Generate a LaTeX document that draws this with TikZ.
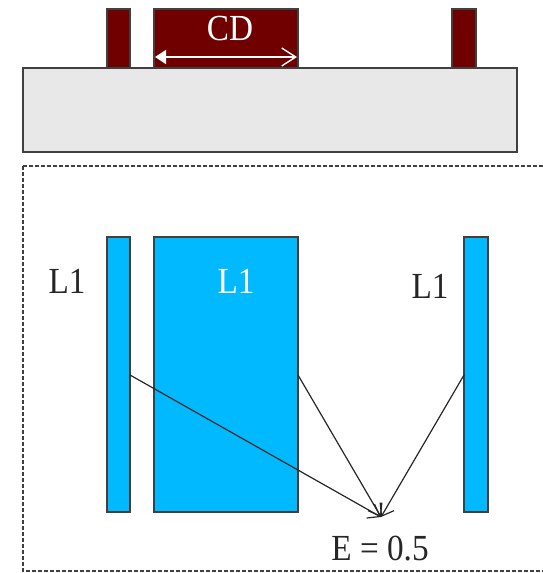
\documentclass[tikz,border=0pt]{standalone}
\usepackage{fontspec}
\setmainfont{Liberation Serif}
\usetikzlibrary{arrows.meta}
\definecolor{maskred}{RGB}{112,0,0}
\definecolor{resistblue}{RGB}{0,185,255}
\definecolor{basegray}{RGB}{232,232,232}
\definecolor{edgegray}{RGB}{64,64,64}
\begin{document}
\begin{tikzpicture}[x=1pt,y=-1pt,
  block/.style={rectangle,draw=edgegray,line width=1.5pt,inner sep=0pt,outer sep=0pt,anchor=north west},
  maskbar/.style={block,fill=maskred},
  resist/.style={block,fill=resistblue},
  lbl/.style={font=\fontsize{35}{38}\selectfont,inner sep=0pt,xscale=0.95,yscale=1.05},
  ray/.style={line width=1.2pt,draw=black!85,-{Straight Barb[length=11pt,width=16pt,line width=1.2pt]}}]
\useasboundingbox (0,0) rectangle (543,573);
% top: mask on substrate
\node[block,fill=basegray,minimum width=494pt,minimum height=84pt] (base) at (23,68) {};
\node[maskbar,minimum width=23pt,minimum height=59pt] (m1) at (107,9) {};
\node[maskbar,minimum width=144pt,minimum height=59pt] (m2) at (154,9) {};
\node[maskbar,minimum width=24pt,minimum height=59pt] (m3) at (452,9) {};
\node[lbl,text=white] (cd) at (230,29) {CD};
\coordinate (cdl) at (155,57);
\coordinate (cdr) at (297,57);
\draw[white,line width=1.4pt,{Triangle[length=11pt,width=14pt]}-{Straight Barb[length=14pt,width=18pt,line width=1.4pt]}] (cdl) -- (cdr);
% dashed frame (right edge outside the picture)
\begin{scope}
\clip (0,0) rectangle (543,573);
\draw[dash pattern=on 4pt off 2pt,line width=1.2pt,draw=edgegray] (23,166) rectangle (580,571);
\end{scope}
% resist lines
\node[resist,minimum width=23pt,minimum height=275pt] (b1) at (107,237) {};
\node[resist,minimum width=144pt,minimum height=275pt] (b2) at (154,237) {};
\node[resist,minimum width=24pt,minimum height=275pt] (b3) at (464,237) {};
\node[lbl,text=black!85] (l1) at (67,281) {L1};
\node[lbl,text=white] (l2) at (236,281) {L1};
\node[lbl,text=black!85] (l3) at (430,286) {L1};
% rays
\coordinate (p1) at (130,375);
\coordinate (p2) at (298,375);
\coordinate (p3) at (464,375);
\coordinate (tgt) at (381,517);
\draw[ray] (p1) -- (tgt);
\draw[ray] (p2) -- (tgt);
\draw[ray] (p3) -- (tgt);
\node[lbl,text=black!85] (e) at (380,549) {E = 0.5};
\end{tikzpicture}
\end{document}
